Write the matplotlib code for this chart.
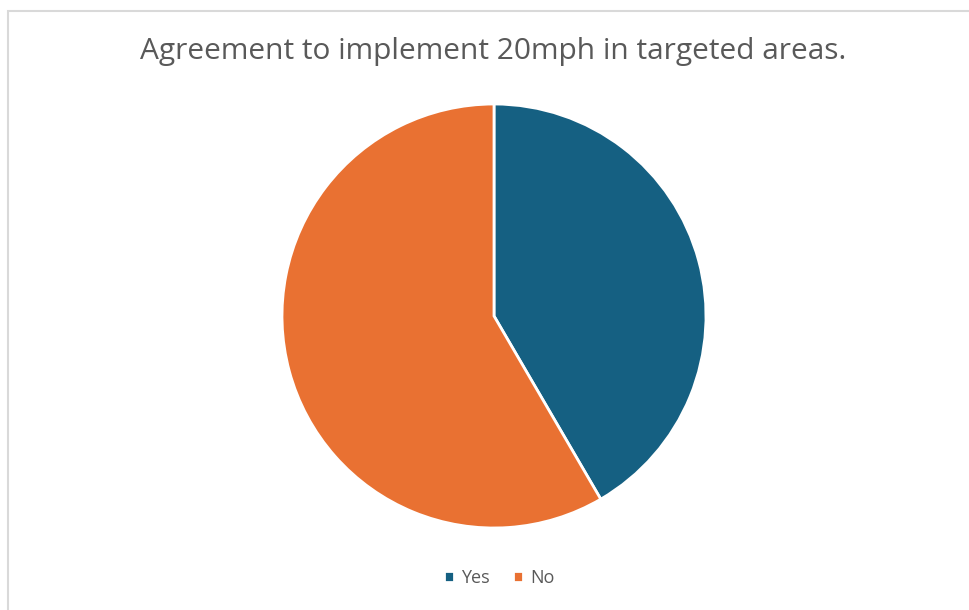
import matplotlib.pyplot as plt
from matplotlib.patches import Rectangle

labels = ['Yes', 'No']
values = [41.6, 58.4]
colors = ['#156082', '#E97132']
title = 'Agreement to implement 20mph in targeted areas.'


def main():
    fig = plt.figure(figsize=(9.69, 6.10), dpi=100)
    fig.patch.set_facecolor('white')

    # chart area border (cropped on the right and bottom)
    fig.patches.append(Rectangle((7.5 / 969, -0.1), 1.2, (610 - 10.5) / 610 + 0.1,
                                 transform=fig.transFigure, fill=False,
                                 edgecolor='#D9D9D9', linewidth=1.5))

    ax = fig.add_axes([(494 - 212) / 969, (610 - 316 - 212) / 610, 424 / 969, 424 / 610])
    wedges, _ = ax.pie(values, colors=colors, startangle=90, counterclock=False,
                       wedgeprops=dict(edgecolor='white', linewidth=2))
    ax.set_xlim(-1, 1)
    ax.set_ylim(-1, 1)
    ax.set_aspect('equal')

    fig.text(493 / 969, (610 - 52) / 610, title, ha='center', va='center',
             fontsize=21.5, color='#595959', family='Open Sans')

    fig.legend(wedges, labels, loc='center', bbox_to_anchor=(499 / 969, (610 - 578) / 610),
               ncol=2, frameon=False, labelcolor='#595959',
               handlelength=0.55, handleheight=0.55, handletextpad=0.4, columnspacing=1.3,
               prop={'family': 'Open Sans', 'size': 13})

    fig.savefig('out.png', dpi=100)


if __name__ == "__main__":
    main()
